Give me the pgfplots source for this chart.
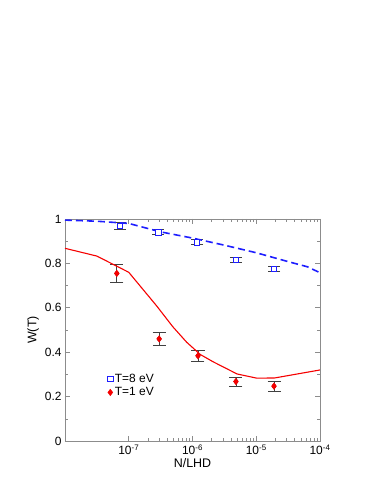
\documentclass[border=0pt]{standalone}
\usepackage{fontspec}
\setmainfont{Liberation Sans}
\usepackage{pgfplots}
\pgfplotsset{compat=1.18}
\definecolor{dblue}{RGB}{30,30,255}
\definecolor{dred}{RGB}{245,0,0}
\pgfplotstableread{
x y e
7.3e-8 0.968 0.015
2.9e-7 0.940 0.011
1.18e-6 0.895 0.011
4.8e-6 0.815 0.011
1.9e-5 0.775 0.011
}\hightab
\pgfplotstableread{
x y e
6.5e-8 0.755 0.041
3.0e-7 0.460 0.030
1.22e-6 0.384 0.024
4.8e-6 0.268 0.020
1.9e-5 0.247 0.023
}\lowtab
\begin{document}
\begin{tikzpicture}
\useasboundingbox (0,0) rectangle (387bp,501bp);
\begin{axis}[
  at={(65bp,60bp)}, anchor=south west,
  scale only axis, width=255bp, height=222bp,
  xmode=log, xmin=1e-8, xmax=1e-4,
  ymin=0, ymax=1,
  /pgf/number format/assume math mode=true,
  tick label style={font=\fontsize{12}{14}\selectfont},
  label style={font=\fontsize{12.5}{14}\selectfont},
  axis line style={black!45, line width=0.8pt},
  tick style={black!45, line width=0.6pt},
  tick align=inside,
  xtick={1e-7,1e-6,1e-5,1e-4},
  xticklabels={10\textsuperscript{-7},10\textsuperscript{-6},10\textsuperscript{-5},10\textsuperscript{-4}},
  ytick={0,0.2,0.4,0.6,0.8,1},
  yticklabels={0,0.2,0.4,0.6,0.8,1},
  minor ytick={0.1,0.3,0.5,0.7,0.9},
  major tick length=5bp, minor tick length=3bp,
  xlabel={N/LHD}, ylabel={W(T)},
  xlabel style={yshift=3bp},
  ylabel style={yshift=-1bp},
  legend style={at={(0.155,0.25)}, anchor=west, draw=none, fill=none,
    font=\fontsize{12}{14}\selectfont, row sep=0bp,
    legend cell align=left},
]
% error bars
\addplot[forget plot, only marks, mark=none, black!75,
  error bars/.cd, y dir=both, y explicit,
  error bar style={black!75, line width=0.8pt},
  error mark options={rotate=90, mark size=6bp, black!75, line width=0.8pt}]
  table[x=x, y=y, y error=e] {\hightab};
\addplot[forget plot, only marks, mark=none, black!75,
  error bars/.cd, y dir=both, y explicit,
  error bar style={black!75, line width=0.8pt},
  error mark options={rotate=90, mark size=6.5bp, black!75, line width=0.8pt}]
  table[x=x, y=y, y error=e] {\lowtab};
% markers
\addplot[only marks, color=dblue, mark=square*, mark size=2.6bp,
  mark options={color=dblue, fill=white, line width=0.6pt},
  legend image post style={color=dblue, fill=white, line width=0.6pt}]
  table[x=x, y=y] {\hightab};
\addlegendentry{T=8 eV}
\addplot[only marks, color=dred, mark=diamond*, mark size=3.3bp,
  mark options={color=dred, fill=dred}]
  table[x=x, y=y] {\lowtab};
\addlegendentry{T=1 eV}
% curves
\addplot[forget plot, dred, line width=1.1pt] coordinates {
  (1e-8,0.868) (3.16e-8,0.833) (1e-7,0.760) (2.75e-7,0.608) (4.9e-7,0.515)
  (8.1e-7,0.445) (1.32e-6,0.390) (2.1e-6,0.357) (5.0e-6,0.302)
  (1.02e-5,0.283) (1.95e-5,0.284) (1e-4,0.320)
};
\addplot[forget plot, dblue, line width=1.6pt, dash pattern=on 7bp off 4bp] coordinates {
  (1e-8,0.995) (3.16e-8,0.990) (1e-7,0.980) (3.16e-7,0.942) (1e-6,0.914)
  (3.16e-6,0.882) (1e-5,0.848) (3.16e-5,0.808) (6.3e-5,0.785) (1e-4,0.758)
};
\end{axis}
\end{tikzpicture}
\end{document}
